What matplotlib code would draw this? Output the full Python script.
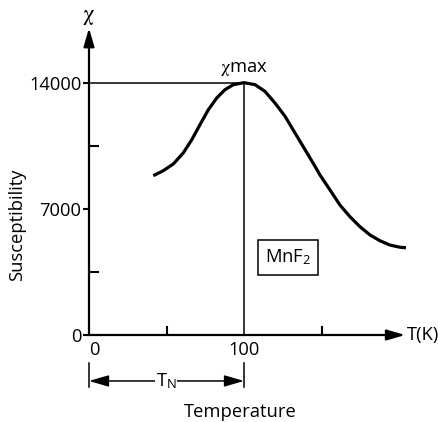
import matplotlib
matplotlib.use("Agg")
import matplotlib.pyplot as plt

plt.rcParams['font.family'] = ['Open Sans', 'DejaVu Sans']
plt.rcParams['mathtext.fontset'] = 'custom'
plt.rcParams['mathtext.rm'] = 'STIXGeneral'
plt.rcParams['mathtext.it'] = 'STIXGeneral'

# MnF2 magnetic susceptibility vs temperature
temperature = [41.5, 47.9, 54.4, 60.8, 66.3, 71.6, 77.0, 82.4, 87.7, 93.1, 100,
               107.1, 113.5, 120, 126.5, 132.9, 139.4, 145.8, 149, 155.5, 161.9,
               168.4, 174.8, 181.3, 187.7, 194.2, 200.6, 204.5]
susceptibility = [8840, 9115, 9490, 10100, 10835, 11670, 12500, 13150, 13610, 13890, 14000,
                  13890, 13520, 12870, 12130, 11210, 10280, 9360, 8880, 8045, 7210,
                  6560, 6010, 5550, 5230, 4990, 4870, 4840]

t_neel = 100
chi_max = 14000
x_major = [0, 100]
x_minor = [50, 150]
y_major = [0, 7000, 14000]
y_minor = [3500, 10500]

FS = 13.2
PX = 0.72  # points per pixel at 100 dpi
fig = plt.figure(figsize=(4.38, 4.22), dpi=100)
ax = fig.add_axes([89 / 438, 87 / 422, 325.5 / 438, 310 / 422])
ax.set_xlim(0, 210)
ax.set_ylim(0, 17200)
for s in ax.spines.values():
    s.set_visible(False)

# axes drawn as arrows
arrow = dict(arrowstyle='-|>,head_length=1.1,head_width=0.32', lw=1.6,
             color='black', mutation_scale=10, shrinkA=0, shrinkB=0)
ax.annotate('', xy=(204, 0), xytext=(-1, 0), arrowprops=arrow, annotation_clip=False)
ax.annotate('', xy=(0, 17030), xytext=(0, 0), arrowprops=arrow, annotation_clip=False)

# ticks
ax.set_xticks(x_major)
ax.set_xticklabels([str(v) for v in x_major], fontsize=FS)
ax.set_xticks(x_minor, minor=True)
ax.tick_params(axis='x', which='major', length=0, pad=6 * PX)
ax.tick_params(axis='x', which='minor', direction='in', length=9 * PX, width=1.5)
ax.set_yticks(y_major)
ax.set_yticklabels([str(v) for v in y_major], fontsize=FS)
ax.set_yticks(y_minor, minor=True)
ax.tick_params(axis='y', which='major', direction='out', length=6 * PX, width=1.5, pad=1.5 * PX)
ax.tick_params(axis='y', which='minor', direction='in', length=10 * PX, width=1.5)
ax.get_xticklabels()[0].set_horizontalalignment('left')

# reference lines to the maximum
ax.plot([0, t_neel], [chi_max, chi_max], color='black', lw=1.1, clip_on=False)
ax.plot([t_neel, t_neel], [0, chi_max], color='black', lw=1.1, clip_on=False)

# susceptibility curve
ax.plot(temperature, susceptibility, color='black', lw=2.3,
        solid_capstyle='butt', solid_joinstyle='round', clip_on=False)

ax.text(t_neel, 14750, r'$\chi$max', fontsize=FS, ha='center', va='center')
ax.text(0, 17650, r'$\chi$', fontsize=FS + 3, ha='center', va='center', clip_on=False)
ax.text(204.8, 0, 'T(K)', fontsize=FS, ha='left', va='center', clip_on=False)
ax.text(128.4, 4300, 'MnF$_\\mathregular{2}$', fontsize=FS, ha='center', va='center',
        bbox=dict(boxstyle='square,pad=0.4', fc='white', ec='black', lw=1.1))

# Neel temperature span below the axis
for xv in (0, t_neel):
    ax.plot([xv, xv], [-1550, -2900], color='black', lw=1.1, clip_on=False)
ax.annotate('', xy=(0, -2550), xytext=(t_neel, -2550), annotation_clip=False,
            arrowprops=dict(arrowstyle='<|-|>,head_length=1.2,head_width=0.35',
                            lw=1.1, color='black', mutation_scale=10,
                            shrinkA=0, shrinkB=0))
ax.text(49.7, -2550, 'T$_\\mathregular{N}$', fontsize=FS, ha='center', va='center',
        bbox=dict(boxstyle='square,pad=0.05', fc='white', ec='none'))

ax.set_xlabel('Temperature', fontsize=FS, va='center')
ax.xaxis.set_label_coords(0.464, -0.248)
ax.set_ylabel('Susceptibility', fontsize=FS, va='center')
ax.yaxis.set_label_coords(-0.221, 0.355)

fig.savefig('out.png', dpi=100)
